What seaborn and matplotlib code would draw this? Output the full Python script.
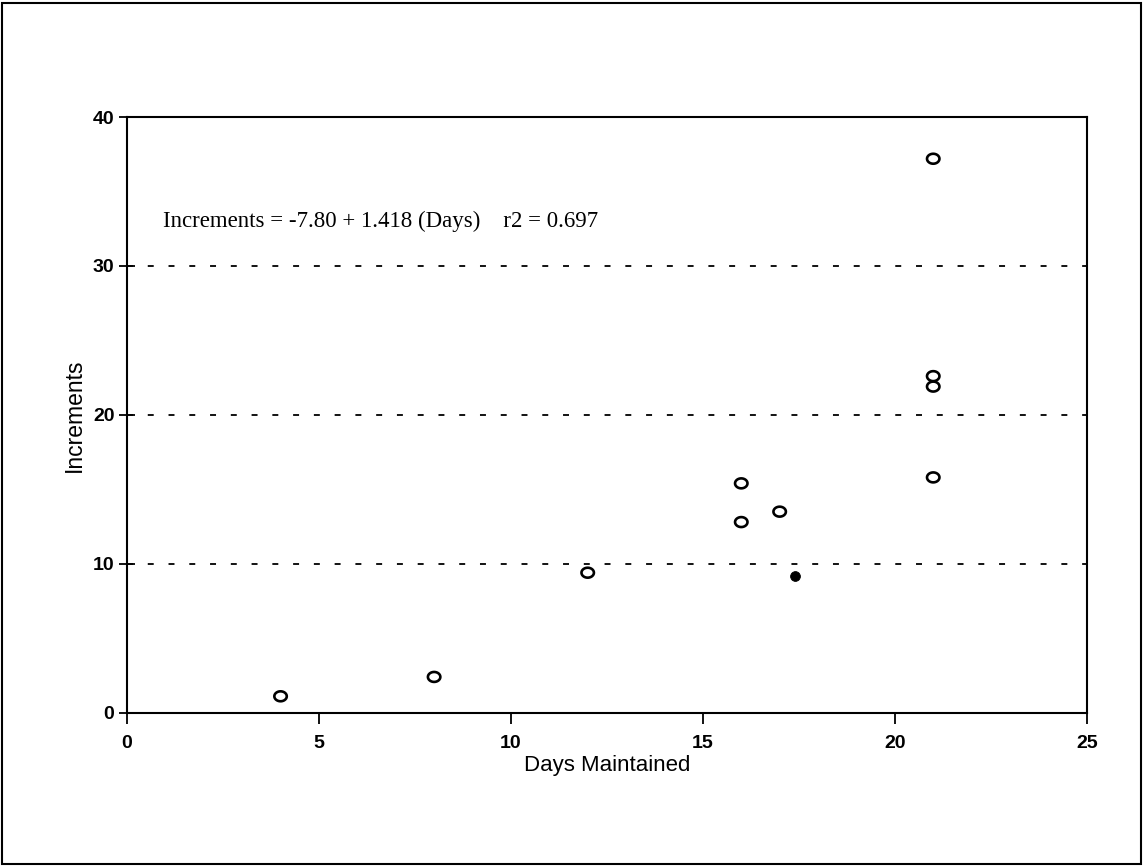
import numpy as np
import pandas as pd
import seaborn as sns
import matplotlib.pyplot as plt
from matplotlib.patches import Rectangle
from matplotlib.path import Path

# values
days_open = [4, 8, 12, 16, 16, 17, 21, 21, 21, 21]
incr_open = [1.1, 2.4, 9.4, 15.4, 12.8, 13.5, 37.2, 22.6, 21.9, 15.8]
days_filled = [17.4]
incr_filled = [9.2]
grid_levels = [10, 20, 30]
x_ticks = [0, 5, 10, 15, 20, 25]
y_ticks = [0, 10, 20, 30, 40]
eq_text = "Increments = -7.80 + 1.418 (Days)    r2 = 0.697"

sns.set_theme(style="white")
plt.rcParams['font.family'] = ['Liberation Sans', 'DejaVu Sans']

# slightly flattened circle, like the original print
t = np.linspace(0, 2 * np.pi, 60)
oval = Path(np.column_stack([np.cos(t), 0.8 * np.sin(t)]), closed=True)

fig = plt.figure(figsize=(11.44, 8.67), dpi=100)
ax = fig.add_axes([0.111, 0.178, 0.839, 0.687])

df_open = pd.DataFrame({'Days': days_open, 'Increments': incr_open})
df_fill = pd.DataFrame({'Days': days_filled, 'Increments': incr_filled})

for lvl in grid_levels:
    ax.axhline(lvl, color='black', linestyle=(0, (3.3, 8.2)), linewidth=1.3, zorder=1)

sns.scatterplot(data=df_open, x='Days', y='Increments', ax=ax, marker=oval,
                s=80, facecolor='none', edgecolor='black', linewidth=1.9,
                zorder=3)
sns.scatterplot(data=df_fill, x='Days', y='Increments', ax=ax, marker='o',
                s=50, color='black', edgecolor='black', zorder=3)

ax.set_xlim(0, 25)
ax.set_ylim(0, 40)
ax.set_xticks(x_ticks)
ax.set_yticks(y_ticks)
for sp in ax.spines.values():
    sp.set_color('black')
    sp.set_linewidth(1.5)
ax.tick_params(axis='y', left=True, direction='inout', length=12, width=1.3,
               labelsize=14, colors='black', pad=3)
ax.tick_params(axis='x', bottom=True, direction='out', length=8, width=1.3,
               labelsize=14, colors='black', pad=8)
for lab in ax.get_xticklabels() + ax.get_yticklabels():
    lab.set_fontweight('bold')

ax.set_xlabel('Days Maintained', fontsize=16, labelpad=2, color='black')
ax.set_ylabel('Increments', fontsize=16.5, labelpad=5, color='black')

ax.text(0.95, 33.0, eq_text, fontsize=16.5, family='Liberation Serif',
        color='black', va='center', ha='left')

fig.patches.append(Rectangle((0.002, 0.003), 0.995, 0.994,
                             transform=fig.transFigure, fill=False,
                             edgecolor='black', linewidth=1.5))

fig.savefig('out.png', dpi=100)
